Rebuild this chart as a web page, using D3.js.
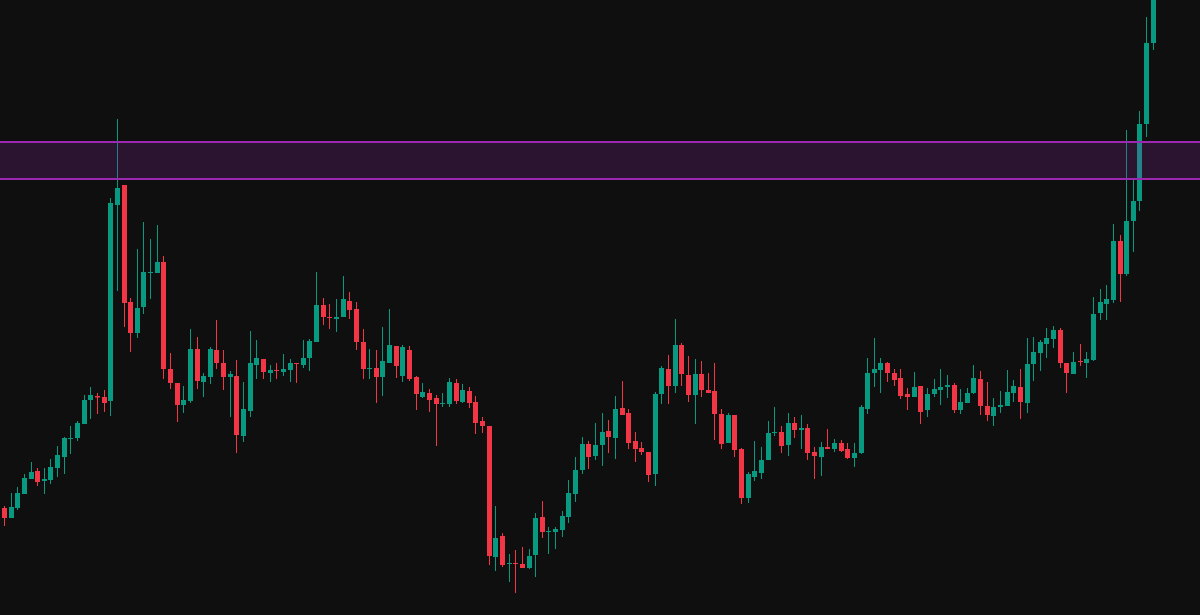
<!DOCTYPE html>
<html>
<head>
<meta charset="utf-8">
<script src="https://cdn.jsdelivr.net/npm/d3@7"></script>
<style>
html,body{margin:0;padding:0;background:#0f0f0f;}
svg{display:block;}
</style>
</head>
<body>
<svg id="chart" width="1200" height="615"></svg>
<script>
const open = [10.7,9.7,10.7,12.1,13.6,14.4,13.4,13.5,14.7,15.8,17.6,17.7,19.1,21.5,21.9,21.8,21.4,41.0,43.0,31.3,
28.2,30.8,34.2,34.2,35.3,24.6,23.2,21.0,21.4,26.6,23.3,23.8,26.5,25.2,23.8,23.9,17.9,20.4,25.0,25.6,
24.2,24.5,24.3,24.5,25.2,25.0,25.7,27.3,31.0,29.8,29.6,29.8,31.4,30.6,27.3,24.6,24.7,23.8,25.2,26.9,
23.9,26.5,23.8,21.8,22.2,21.7,21.1,21.1,23.2,21.3,22.4,21.3,19.4,18.9,5.8,7.9,5.1,5.2,5.1,4.7,
6.0,9.8,8.3,8.3,8.5,9.8,12.1,14.5,17.1,15.9,17.0,18.4,17.7,20.7,20.2,17.4,16.7,16.3,14.1,22.1,
24.6,22.9,27.0,24.0,22.0,24.1,22.5,22.4,20.1,17.2,20.0,16.6,11.7,13.8,14.2,15.5,18.2,18.3,17.0,19.2,
18.5,18.7,16.3,15.8,16.8,16.6,17.2,16.6,15.7,16.2,20.6,24.2,24.5,25.2,24.2,23.7,22.1,21.8,22.9,20.5,
22.1,22.5,22.8,23.0,20.5,21.2,22.2,23.6,20.9,19.9,20.8,20.9,22.2,22.8,21.2,25.1,26.2,27.1,27.6,28.5,
25.2,24.1,25.4,25.2,25.5,30.2,31.1,31.5,37.4,34.1,39.4,41.4,49.1,57.2];
const high = [10.9,12.2,12.8,14.1,15.3,14.7,14.7,15.6,16.9,17.8,18.9,19.4,22.0,22.8,22.2,22.5,41.7,49.6,43.0,31.7,
36.6,39.3,37.6,39.0,35.9,26.2,23.2,22.9,28.6,27.8,24.2,26.8,29.5,26.5,24.4,25.5,23.3,28.4,27.5,25.6,
25.0,25.2,26.1,25.6,25.2,27.5,27.6,34.3,31.7,31.1,31.6,33.9,32.3,31.3,28.6,26.6,26.5,28.8,30.6,26.9,
27.0,26.9,23.9,23.2,22.6,22.0,22.2,23.7,23.6,23.1,22.8,21.9,19.8,18.9,10.9,8.2,6.1,6.5,6.8,6.6,
10.2,11.4,8.8,8.8,10.4,13.5,15.8,17.8,17.4,19.2,20.2,19.5,21.9,23.4,20.6,18.3,17.3,16.3,22.3,24.9,
26.0,29.6,27.2,25.9,25.6,25.4,24.2,25.2,20.6,20.2,20.0,16.7,14.3,17.4,16.8,19.4,20.8,18.9,20.2,19.8,
20.0,19.1,16.8,17.3,18.6,17.6,17.5,17.2,17.2,21.0,25.7,27.7,25.7,25.3,24.6,24.6,22.7,24.3,22.9,22.7,
23.6,24.6,24.0,23.2,22.6,22.7,25.0,24.4,23.3,21.7,22.4,24.5,23.5,24.6,27.7,27.8,27.5,28.7,28.9,28.7,
25.2,26.3,27.1,26.3,31.8,32.6,33.0,39.1,38.0,48.5,43.6,50.4,59.8,64.5];
const low = [8.9,9.7,10.5,12.1,13.6,12.9,12.1,13.1,13.8,14.1,16.1,17.4,19.1,19.6,20.1,20.3,19.9,32.4,28.8,26.3,
27.7,30.1,31.6,34.2,23.6,22.6,19.3,20.2,21.2,22.6,21.8,23.1,24.6,22.5,19.8,16.2,17.3,19.8,23.6,23.6,
23.3,23.6,23.9,23.3,23.2,24.7,24.4,27.3,29.0,28.6,28.3,29.8,29.6,26.5,23.6,23.6,21.2,21.9,25.2,23.7,
23.3,23.4,20.5,21.7,20.3,16.9,20.8,20.8,21.1,21.2,20.7,18.1,18.2,5.0,4.4,4.8,3.3,2.2,4.7,4.6,
3.8,7.7,6.1,6.6,7.8,9.2,11.3,14.1,14.6,15.5,14.9,16.2,15.6,20.0,16.6,15.3,16.0,13.3,12.9,21.1,
21.1,22.2,22.9,21.3,19.1,21.8,22.2,17.5,16.6,17.2,15.8,11.1,11.2,13.4,13.6,15.5,17.9,16.2,15.9,17.7,
16.6,15.5,13.6,13.9,16.6,16.3,16.3,15.6,14.8,16.1,20.1,22.8,22.2,23.3,22.9,21.6,20.5,21.8,19.1,19.8,
21.8,21.0,21.7,20.2,20.1,21.2,22.1,20.0,19.4,18.9,20.2,20.9,21.3,19.6,20.2,23.4,24.4,25.7,26.7,24.7,
22.2,24.1,24.9,23.7,25.4,29.5,29.5,31.2,31.3,33.9,36.3,40.4,47.8,56.5];
const close = [9.7,10.8,12.2,13.7,14.3,13.3,13.6,14.8,16.0,17.7,17.7,19.2,21.5,22.0,21.75,21.2,41.2,42.7,31.2,28.2,
30.7,34.3,34.3,35.3,24.6,23.2,21.0,21.5,26.6,23.4,23.9,26.6,25.2,23.8,24.1,18.0,20.6,25.2,25.7,24.3,
24.5,24.4,24.6,25.2,25.1,25.7,27.4,31.0,29.8,29.7,29.8,31.6,30.5,27.3,24.6,24.7,23.8,25.4,27.0,24.9,
26.8,23.6,22.1,22.3,21.5,21.1,21.2,23.3,21.4,22.5,21.2,19.2,18.9,5.9,7.7,5.0,5.2,5.1,4.7,5.9,
9.7,8.3,8.4,8.6,9.9,12.2,14.5,17.1,15.8,17.0,18.3,17.8,20.6,20.0,17.2,16.6,16.3,14.0,22.1,24.7,
22.9,27.0,24.1,22.0,24.1,22.5,22.2,20.1,17.1,20.0,16.5,11.7,14.1,14.4,15.5,18.2,18.3,16.9,19.2,18.5,
18.7,16.2,15.9,16.8,16.6,17.2,16.4,15.7,16.2,20.8,24.2,24.6,25.2,24.2,23.5,21.9,21.8,22.8,20.3,22.1,
22.6,22.8,23.0,20.5,21.3,22.2,23.7,20.9,20.0,20.8,21.0,22.3,22.9,21.3,25.1,26.3,27.3,27.7,28.5,25.2,
24.2,25.3,25.3,25.6,30.1,31.3,31.6,37.4,34.1,39.4,41.4,49.1,57.2,63.5];
const zoneLow = 43.6;
const zoneHigh = 47.3;

const categories = d3.range(open.length);
const candles = categories.map((i) => ({i, o: open[i], h: high[i], l: low[i], c: close[i]}));

const W = 1200, H = 615;
const svg = d3.select("#chart");
svg.append("rect").attr("width", W).attr("height", H).attr("fill", "#0f0f0f");

const x = d3.scaleBand().domain(categories).range([0.68, 0.68 + 6.64 * categories.length]).padding(0);
const y = d3.scaleLinear().domain([0, 61.5]).range([H, 0]);

const UP = "#089981", DOWN = "#f23645";
const bw = 5;

const g = svg.append("g");
const c = g.selectAll("g.candle").data(candles).join("g").attr("class", "candle");
c.append("line")
  .attr("x1", d => Math.round(x(d.i) + x.bandwidth() / 2) + 0.5)
  .attr("x2", d => Math.round(x(d.i) + x.bandwidth() / 2) + 0.5)
  .attr("y1", d => y(d.h))
  .attr("y2", d => y(d.l))
  .attr("stroke", d => d.c >= d.o ? UP : DOWN)
  .attr("stroke-width", 1);
c.append("rect")
  .attr("x", d => Math.round(x(d.i) + x.bandwidth() / 2) + 0.5 - bw / 2)
  .attr("y", d => y(Math.max(d.o, d.c)))
  .attr("width", bw)
  .attr("height", d => Math.max(1, Math.abs(y(d.o) - y(d.c))))
  .attr("fill", d => d.c >= d.o ? UP : DOWN);

// resistance zone
svg.append("rect")
  .attr("x", 0).attr("width", W)
  .attr("y", y(zoneHigh))
  .attr("height", y(zoneLow) - y(zoneHigh))
  .attr("fill", "rgba(156,39,176,0.2)");
[zoneHigh, zoneLow].forEach(v => {
  svg.append("line")
    .attr("x1", 0).attr("x2", W)
    .attr("y1", y(v)).attr("y2", y(v))
    .attr("stroke", "#9c27b0").attr("stroke-width", 2);
});
</script>
</body>
</html>
